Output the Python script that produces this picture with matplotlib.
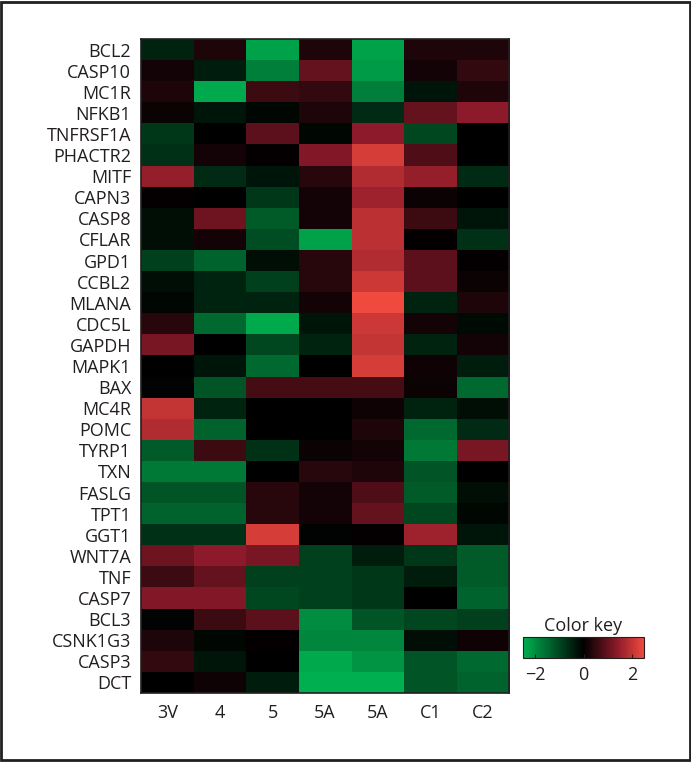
import numpy as np
import matplotlib.pyplot as plt
from matplotlib.colors import LinearSegmentedColormap
from matplotlib.patches import Rectangle

plt.rcParams['font.family'] = ['Open Sans', 'DejaVu Sans']

genes = ['BCL2', 'CASP10', 'MC1R', 'NFKB1', 'TNFRSF1A', 'PHACTR2', 'MITF', 'CAPN3',
         'CASP8', 'CFLAR', 'GPD1', 'CCBL2', 'MLANA', 'CDC5L', 'GAPDH', 'MAPK1', 'BAX',
         'MC4R', 'POMC', 'TYRP1', 'TXN', 'FASLG', 'TPT1', 'GGT1', 'WNT7A', 'TNF',
         'CASP7', 'BCL3', 'CSNK1G3', 'CASP3', 'DCT']
samples = ['3V', '4', '5', '5A', '5A', 'C1', 'C2']

# expression values (rows = genes, cols = samples)
values = [
    [-0.5, 0.3, -2.3, 0.3, -2.3, 0.3, 0.3],
    [0.2, -0.4, -1.8, 1.0, -2.2, 0.2, 0.5],
    [0.3, -2.4, 0.6, 0.5, -1.8, -0.3, 0.3],
    [0.1, -0.3, -0.1, 0.3, -0.6, 1.0, 1.4],
    [-0.8, 0.0, 0.9, -0.1, 1.4, -1.0, 0.0],
    [-0.7, 0.2, 0.05, 1.3, 2.2, 0.8, 0.0],
    [1.5, -0.6, -0.3, 0.4, 1.8, 1.5, -0.6],
    [0.05, 0.0, -0.8, 0.2, 1.6, 0.1, 0.0],
    [-0.2, 1.1, -1.3, 0.2, 1.9, 0.6, -0.3],
    [-0.2, 0.2, -1.1, -2.3, 1.9, 0.05, -0.7],
    [-0.9, -1.4, -0.2, 0.4, 1.8, 0.9, 0.05],
    [-0.2, -0.5, -0.9, 0.4, 2.1, 0.9, 0.1],
    [-0.1, -0.5, -0.5, 0.2, 2.5, -0.5, 0.3],
    [0.4, -1.5, -2.4, -0.3, 2.1, 0.2, -0.15],
    [1.2, 0.0, -1.0, -0.5, 2.0, -0.5, 0.2],
    [0.0, -0.3, -1.5, 0.0, 2.2, 0.15, -0.4],
    [-0.05, -1.2, 0.7, 0.7, 0.7, 0.1, -1.5],
    [2.0, -0.5, 0.0, 0.0, 0.15, -0.5, -0.2],
    [1.8, -1.4, 0.0, 0.0, 0.3, -1.5, -0.6],
    [-1.3, 0.6, -0.7, 0.1, 0.2, -1.7, 1.2],
    [-1.7, -1.7, 0.0, 0.4, 0.3, -1.2, 0.0],
    [-1.2, -1.2, 0.4, 0.2, 0.8, -1.3, -0.2],
    [-1.4, -1.4, 0.4, 0.2, 1.0, -1.0, -0.1],
    [-0.7, -0.7, 2.2, -0.05, 0.05, 1.6, -0.3],
    [1.1, 1.4, 1.2, -0.9, -0.4, -0.8, -1.3],
    [0.6, 1.0, -0.9, -0.9, -0.8, -0.4, -1.3],
    [1.3, 1.3, -1.0, -0.9, -0.8, 0.0, -1.4],
    [-0.05, 0.6, 0.9, -2.0, -1.2, -1.0, -0.9],
    [0.3, -0.1, 0.05, -1.9, -1.9, -0.2, 0.15],
    [0.5, -0.3, 0.0, -2.4, -2.1, -1.2, -1.5],
    [0.0, 0.15, -0.4, -2.5, -2.5, -1.2, -1.4],
]

cmap = LinearSegmentedColormap.from_list(
    'gkr', [(0.0, '#00b050'), (0.5, '#000000'), (0.78, '#8c1a2a'), (1.0, '#f04a3e')])

fig = plt.figure(figsize=(6.91, 7.62), dpi=100)
fig.patches.append(Rectangle((0.002, 0.002), 0.996, 0.996, transform=fig.transFigure,
                             fill=False, edgecolor='#231f20', linewidth=2))

ax = fig.add_axes([0.204, 0.0906, 0.533, 0.8582])
data = np.array(values)
im = ax.imshow(data, cmap=cmap, vmin=-2.5, vmax=2.5, aspect='auto',
               interpolation='nearest')
ax.set_xticks(range(len(samples)))
ax.set_xticklabels(samples, fontsize=13, color='#231f20')
ax.set_yticks(range(len(genes)))
ax.set_yticklabels(genes, fontsize=13, color='#231f20')
ax.tick_params(length=0, pad=7)
ax.tick_params(axis='x', pad=8)
for s in ax.spines.values():
    s.set_color('#231f20')
    s.set_linewidth(1.2)

cax = fig.add_axes([0.757, 0.1365, 0.175, 0.0276])
cb = fig.colorbar(im, cax=cax, orientation='horizontal', ticks=[-2, 0, 2])
cb.ax.tick_params(labelsize=13, length=3, direction='in', colors='#231f20', pad=6)
cb.ax.set_xticklabels(['\u22122', '0', '2'])
cb.outline.set_edgecolor('#231f20')
cax.set_title('Color key', fontsize=13, color='#231f20', pad=4)

fig.savefig('out.png', dpi=100)
